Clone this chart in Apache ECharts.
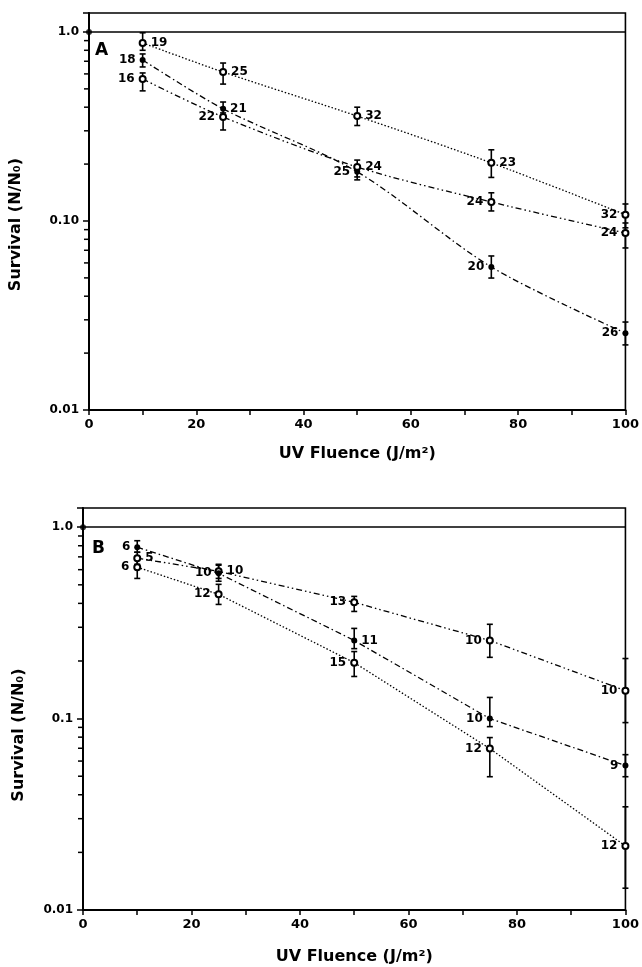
<!DOCTYPE html>
<html>
<head>
<meta charset="utf-8">
<script src="https://cdn.jsdelivr.net/npm/echarts@6/dist/echarts.min.js"></script>
<style>
html, body { margin: 0; padding: 0; background: #fff; }
#chart { width: 642px; height: 967px; }
</style>
</head>
<body>
<div id="chart"></div>
<script>
var fluence = [10, 25, 50, 75, 100];

// panel A
var aDotted = [0.875, 0.614, 0.359, 0.203, 0.108];
var aDottedLo = [0.80, 0.53, 0.32, 0.17, 0.092];
var aDottedHi = [0.99, 0.685, 0.40, 0.238, 0.123];
var aDottedN = ['19', '25', '32', '23', '32'];

var aDashDotDot = [0.564, 0.355, 0.193, 0.126, 0.0864];
var aDashDotDotLo = [0.488, 0.303, 0.171, 0.113, 0.072];
var aDashDotDotHi = [0.607, 0.373, 0.210, 0.141, 0.0976];
var aDashDotDotN = ['16', '22', '24', '24', '24'];

var aDashDot = [0.711, 0.392, 0.182, 0.0571, 0.0255];
var aDashDotLo = [0.653, 0.364, 0.165, 0.0499, 0.0221];
var aDashDotHi = [0.765, 0.426, 0.193, 0.0653, 0.0292];
var aDashDotN = ['18', '21', '25', '20', '26'];

// panel B
var bDashDotDot = [0.689, 0.588, 0.405, 0.256, 0.140];
var bDashDotDotLo = [0.64, 0.54, 0.363, 0.209, 0.0953];
var bDashDotDotHi = [0.74, 0.64, 0.435, 0.311, 0.206];
var bDashDotDotN = ['5', '10', '13', '10', '10'];

var bDashDot = [0.786, 0.574, 0.256, 0.100, 0.0568];
var bDashDotLo = [0.74, 0.522, 0.232, 0.0908, 0.0497];
var bDashDotHi = [0.85, 0.633, 0.296, 0.129, 0.0648];
var bDashDotN = ['6', '10', '11', '10', '9'];

var bDotted = [0.618, 0.446, 0.196, 0.0697, 0.0216];
var bDottedLo = [0.54, 0.395, 0.166, 0.0497, 0.0130];
var bDottedHi = [0.70, 0.503, 0.224, 0.0796, 0.0346];
var bDottedN = ['6', '12', '15', '12', '12'];

var origin = [[0, 1.0]];

var aTickLabels = { '-2': '0.01', '-1': '0.10', '0': '1.0' };
var bTickLabels = { '-2': '0.01', '-1': '0.1', '0': '1.0' };
var minorTickVals = [0.02, 0.03, 0.04, 0.05, 0.06, 0.07, 0.08, 0.09,
                     0.2, 0.3, 0.4, 0.5, 0.6, 0.7, 0.8, 0.9];

var xName = 'UV Fluence (J/m²)';
var yName = 'Survival (N/N₀)';

var FONT = 'DejaVu Sans';
var DOTTED = [1.5, 2];
var DASHDOT = [6, 3, 1.5, 3];
var DASHDOTDOT = [6, 3, 1.5, 3, 1.5, 3];

function lineSeries(idx, xs, ys, ns, sides, symbol, dash, smooth) {
    return {
        type: 'line',
        xAxisIndex: idx, yAxisIndex: idx,
        data: xs.map(function (x, i) {
            return { value: [x, ys[i]], label: { position: sides[i] } };
        }),
        symbol: symbol,
        symbolSize: 6,
        smooth: smooth,
        clip: false,
        lineStyle: { color: '#000', width: 1.3, type: dash },
        itemStyle: { color: '#000', borderWidth: 1.3 },
        label: {
            show: true,
            formatter: function (p) { return ns[p.dataIndex]; },
            color: '#000', fontSize: 12, fontWeight: 'bold', fontFamily: FONT,
            distance: 4
        },
        emphasis: { disabled: true },
        z: 3
    };
}

function errSeries(idx, xs, lo, hi) {
    return {
        type: 'custom',
        xAxisIndex: idx, yAxisIndex: idx,
        clip: false, silent: true, z: 2,
        data: xs.map(function (x, i) { return [x, lo[i], hi[i]]; }),
        encode: { x: 0, y: [1, 2] },
        renderItem: function (params, api) {
            var a = api.coord([api.value(0), api.value(1)]);
            var b = api.coord([api.value(0), api.value(2)]);
            var w = 3;
            var st = { stroke: '#000', lineWidth: 1.6 };
            return {
                type: 'group',
                children: [
                    { type: 'line', shape: { x1: a[0], y1: a[1], x2: b[0], y2: b[1] }, style: st },
                    { type: 'line', shape: { x1: a[0] - w, y1: a[1], x2: a[0] + w, y2: a[1] }, style: st },
                    { type: 'line', shape: { x1: b[0] - w, y1: b[1], x2: b[0] + w, y2: b[1] }, style: st }
                ]
            };
        }
    };
}

function minorTickSeries(idx) {
    return {
        type: 'custom',
        xAxisIndex: idx, yAxisIndex: idx,
        clip: false, silent: true,
        data: minorTickVals.map(function (v) { return [0, v]; }),
        encode: { x: 0, y: 1 },
        renderItem: function (params, api) {
            var p = api.coord([0, api.value(1)]);
            return {
                type: 'line',
                shape: { x1: p[0] - 5, y1: p[1], x2: p[0], y2: p[1] },
                style: { stroke: '#000', lineWidth: 1.5 }
            };
        }
    };
}

function originSeries(idx) {
    return {
        type: 'scatter',
        xAxisIndex: idx, yAxisIndex: idx,
        data: origin,
        symbol: 'circle', symbolSize: 6,
        clip: false, silent: true,
        itemStyle: { color: '#000' },
        markLine: {
            silent: true, symbol: 'none',
            label: { show: false },
            lineStyle: { color: '#000', width: 1.6, type: 'solid' },
            data: [{ yAxis: 1.0 }]
        },
        z: 4
    };
}

function xAxis(idx, gap) {
    return {
        type: 'value', gridIndex: idx,
        min: 0, max: 100, interval: 10,
        name: xName, nameLocation: 'middle', nameGap: gap,
        nameTextStyle: { color: '#000', fontSize: 16, fontWeight: 'bold', fontFamily: FONT },
        axisLine: { lineStyle: { color: '#000', width: 2 } },
        axisTick: { inside: false, length: 5, lineStyle: { color: '#000', width: 1.5 } },
        axisLabel: {
            color: '#000', fontSize: 13, fontWeight: 'bold', fontFamily: FONT, margin: 8,
            formatter: function (v) { return v % 20 === 0 ? String(v) : ''; }
        },
        splitLine: { show: false }
    };
}

function yAxis(idx, labels, gap, shift) {
    return {
        type: 'log', logBase: 10, gridIndex: idx,
        min: 0.01, max: 1.26,
        name: yName, nameLocation: 'middle', nameGap: gap,
        nameTextStyle: {
            color: '#000', fontSize: 16, fontWeight: 'bold', fontFamily: FONT,
            padding: [0, shift * 2, 0, 0]
        },
        axisLine: { lineStyle: { color: '#000', width: 2 } },
        axisTick: { inside: false, length: 6, lineStyle: { color: '#000', width: 1.5 } },
        axisLabel: {
            color: '#000', fontSize: 12, fontWeight: 'bold', fontFamily: FONT, margin: 10,
            formatter: function (v) {
                var e = Math.log(v) / Math.LN10;
                var r = Math.round(e);
                if (Math.abs(e - r) > 1e-6) return '';
                return labels[String(r)] || '';
            }
        },
        splitLine: { show: false }
    };
}

var series = [
    minorTickSeries(0),
    originSeries(0),
    lineSeries(0, fluence, aDotted, aDottedN,
        ['right', 'right', 'right', 'right', 'left'], 'emptyCircle', DOTTED, 0.3),
    errSeries(0, fluence, aDottedLo, aDottedHi),
    lineSeries(0, fluence, aDashDotDot, aDashDotDotN,
        ['left', 'left', 'right', 'left', 'left'], 'emptyCircle', DASHDOTDOT, 0.3),
    errSeries(0, fluence, aDashDotDotLo, aDashDotDotHi),
    lineSeries(0, fluence, aDashDot, aDashDotN,
        ['left', 'right', 'left', 'left', 'left'], 'circle', DASHDOT, 0.3),
    errSeries(0, fluence, aDashDotLo, aDashDotHi),

    minorTickSeries(1),
    originSeries(1),
    lineSeries(1, fluence, bDashDotDot, bDashDotDotN,
        ['right', 'right', 'left', 'left', 'left'], 'emptyCircle', DASHDOTDOT, false),
    errSeries(1, fluence, bDashDotDotLo, bDashDotDotHi),
    lineSeries(1, fluence, bDashDot, bDashDotN,
        ['left', 'left', 'right', 'left', 'left'], 'circle', DASHDOT, false),
    errSeries(1, fluence, bDashDotLo, bDashDotHi),
    lineSeries(1, fluence, bDotted, bDottedN,
        ['left', 'left', 'left', 'left', 'left'], 'emptyCircle', DOTTED, false),
    errSeries(1, fluence, bDottedLo, bDottedHi)
];

var chart = echarts.init(document.getElementById('chart'), null, { renderer: 'canvas' });
chart.setOption({
    animation: false,
    backgroundColor: '#fff',
    grid: [
        { left: 88, top: 13, width: 538, height: 397, show: true, borderColor: '#000', borderWidth: 1.6, backgroundColor: 'transparent' },
        { left: 83, top: 508, width: 543, height: 402, show: true, borderColor: '#000', borderWidth: 1.6, backgroundColor: 'transparent' }
    ],
    xAxis: [xAxis(0, 36), xAxis(1, 39)],
    yAxis: [yAxis(0, aTickLabels, 65, 13), yAxis(1, bTickLabels, 56, 26)],
    graphic: [
        { type: 'text', left: 95, top: 42, style: { text: 'A', fill: '#000', font: 'bold 17px "DejaVu Sans"' } },
        { type: 'text', left: 92, top: 540, style: { text: 'B', fill: '#000', font: 'bold 17px "DejaVu Sans"' } }
    ],
    series: series
});
</script>
</body>
</html>
